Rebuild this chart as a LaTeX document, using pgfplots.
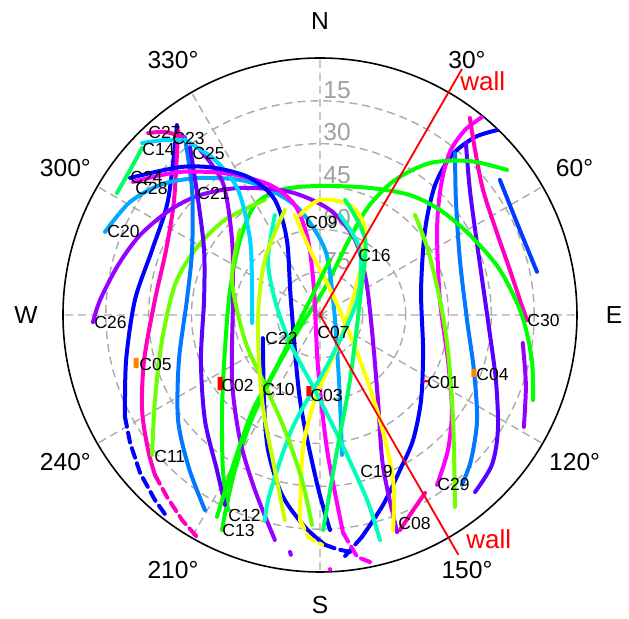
\documentclass[border=0pt]{standalone}
\usepackage{pgfplots}
\pgfplotsset{compat=1.18}
\usepgfplotslibrary{polar}
\usepackage{fontspec}
\setmainfont{Liberation Sans}
\definecolor{cBlue}{RGB}{0,0,255}
\definecolor{cBlueB}{RGB}{0,60,255}
\definecolor{cIndigo}{RGB}{90,0,255}
\definecolor{cPurple}{RGB}{150,0,255}
\definecolor{cMag}{RGB}{255,0,255}
\definecolor{cPink}{RGB}{255,0,190}
\definecolor{cAzure}{RGB}{0,120,255}
\definecolor{cSky}{RGB}{0,170,255}
\definecolor{cCyan}{RGB}{0,215,255}
\definecolor{cTeal}{RGB}{0,255,190}
\definecolor{cSpring}{RGB}{0,255,100}
\definecolor{cGreen}{RGB}{0,255,0}
\definecolor{cLime}{RGB}{110,255,0}
\definecolor{cYG}{RGB}{200,255,0}
\definecolor{cYellow}{RGB}{255,255,0}
\definecolor{cOrange}{RGB}{255,130,0}
\definecolor{gridgray}{RGB}{170,170,170}
\definecolor{labgray}{RGB}{160,160,160}
\pgfplotsset{
  trk/.style={data cs=cart, line width=2pt, line cap=round, smooth},
  dsh/.style={data cs=cart, line width=2pt, line cap=round, dash pattern=on 5pt off 3pt},
  geo/.style={data cs=cart, line width=2.5pt},
}
\begin{document}
\begin{tikzpicture}
% radial (elevation) labels, under everything
\begin{scope}[every node/.style={anchor=south west, inner sep=0pt, text=labgray, font=\fontsize{12.3}{14}\selectfont}]
\node at (1.5pt,108pt) {15};
\node at (1.5pt,86.7pt) {30};
\node at (1.5pt,65.2pt) {45};
\node at (1.5pt,43.8pt) {60};
\node at (1.5pt,22.4pt) {75};
\end{scope}
\begin{polaraxis}[
  at={(0pt,0pt)}, anchor=center, scale only axis,
  width=257pt, height=257pt,
  ymin=0, ymax=90,
  xtick={0,30,...,330}, xticklabel=\empty,
  ytick={15,30,45,60,75}, yticklabel=\empty,
  major tick length=0pt,
  grid=major,
  major grid style={draw=gridgray, dash pattern=on 4pt off 2.5pt, line width=0.7pt},
  axis line style={black, line width=0.8pt},
  y axis line style={draw=none},
]
% ---- east group
\addplot[trk, cBlue] coordinates {(62.3,64.8) (54.3,62.3) (46.2,56) (40.3,45.5) (36.8,29.8) (35.4,8.8) (36.1,-12.3) (35.4,-29.8) (32.6,-43.8) (28,-54.3) (22.1,-66.5) (14.7,-77.7)};
\addplot[dsh, cBlue] coordinates {(14.7,-77.7) (8.8,-84.4)};
\addplot[trk, cMag] coordinates {(56.7,69.3) (50.8,64.8) (45.5,57.1) (42.4,45.5) (41,29.8) (42,5.3) (44.8,-15.8) (46.2,-33.3) (44.8,-47.3) (41,-59.5)};
\addplot[trk, cPink] coordinates {(52.5,69) (54.3,57.8) (57.1,43.8) (62,28.7) (66.5,15.8) (70,5.3) (72.5,-1.8)};
\addplot[trk, cAzure] coordinates {(47.3,56.7) (47.6,40.3) (49,19.3) (51.5,-1.8) (53.9,-19.3) (55,-36.8) (52.9,-50.8) (49.7,-59.5)};
\addplot[trk, cIndigo] coordinates {(51.1,60.2) (52.5,43.8) (55.3,22.8) (58.8,-1.8) (61.6,-22.8) (62.3,-40.3) (60.2,-52.5) (54.3,-62)};
\addplot[trk, cBlueB] coordinates {(63,47.3) (69.3,31.5) (76,15.1)};
\addplot[trk, cPurple] coordinates {(71,-9.8) (72.1,-24.5) (71.4,-39.2)};
\addplot[trk, cGreen] coordinates {(65.5,50.8) (52.5,53.9) (38.5,53.2) (26.3,47.3) (17,38) (10,26) (2,10) (-8,-6) (-17,-22) (-24.5,-38) (-29.8,-54.3) (-33,-68.3) (-34.3,-75.3)};
\addplot[trk, cGreen] coordinates {(74.6,-29.8) (74.2,-15.8) (70.7,0) (63,15.8) (52.5,28) (42,36.8) (31.5,42) (17.5,44.5) (0,45.2) (-14,43.8) (-22.8,38.5) (-28,26.3) (-31.5,8.8) (-33.3,-12.3) (-34.3,-33.3) (-34,-54.3) (-32.2,-68.3)};
\addplot[trk, cLime] coordinates {(33.3,35) (37.8,22.8) (42,5.3) (44.8,-12.3) (46.6,-36.8) (47.3,-67.2)};
\addplot[trk, cPink] coordinates {(28,-75.3) (32.2,-69) (36.8,-62.3)};
% ---- west group
\addplot[trk, cBlue] coordinates {(-50.1,66.5) (-53.2,40.3) (-58.8,22.8) (-64.8,5.3) (-67.9,-15.8) (-68.3,-35.7)};
\addplot[dsh, cBlue] coordinates {(-68.3,-35.7) (-66.5,-44.8) (-63,-55.3) (-57.8,-64.8) (-53.6,-70.7)};
\addplot[trk, cPink] coordinates {(-49.7,64.8) (-51.1,40.3) (-53.9,22.8) (-57.8,5.3) (-61.6,-15.8) (-62.3,-33.3) (-60.2,-47.3) (-57.8,-56)};
\addplot[dsh, cPink] coordinates {(-57.8,-56) (-53.6,-63.7) (-48.3,-71.8) (-43.1,-77.7)};
\addplot[trk, cPink] coordinates {(-60.2,63.7) (-54.3,64.1) (-47.3,62.3)};
\addplot[trk, cSpring] coordinates {(-71.1,42.7) (-66.5,50.8) (-62.3,58.5)};
\addplot[trk, cCyan] coordinates {(-62.3,60.2) (-54.3,61.3) (-47.3,61.3)};
\addplot[trk, cSky] coordinates {(-75.3,29.1) (-66.5,39.6) (-55,45.9) (-42,48) (-28,47.3) (-17.5,43.8) (-7,36.8) (1.8,22.8) (4.6,5.3) (6,-12.3) (7,-29.8) (7.7,-49)};
\addplot[trk, cPurple] coordinates {(-79.5,-2.5) (-77,5.3) (-70.7,17.5) (-63,28) (-52.5,36.8) (-42,42) (-28,44.5) (-10.5,43.1) (3.5,36.8) (12.3,26.3) (16.1,12.3) (18.2,-5.3) (20.3,-29.8) (22.1,-53.2) (27,-76)};
\addplot[trk, cLime] coordinates {(-19.3,40.3) (-33.3,33.3) (-43.8,22.8) (-50.8,10.5) (-55.3,-8.8) (-57.8,-29.8) (-58.8,-49)};
\addplot[trk, cAzure] coordinates {(-47.3,62) (-44.8,43.8) (-44.8,22.8) (-46.6,5.3) (-49.4,-15.8) (-49.7,-36.8) (-45.9,-53.6) (-40.3,-68.3)};
\addplot[trk, cIndigo] coordinates {(-45.5,58.8) (-42.7,40.3) (-40.6,22.8) (-40.6,5.3) (-41.7,-15.8) (-40.3,-36.8) (-36.1,-54.3) (-33.3,-66.5)};
\addplot[trk, cPurple] coordinates {(-42,57.8) (-34,46.2) (-30.8,26.3) (-30.5,5.3) (-30.8,-22.8) (-28,-43.8) (-22.8,-61.3) (-15.8,-78.8)};
\addplot[trk, cPurple] coordinates {(-10.5,-83) (-10.2,-84)};
\addplot[trk, cCyan] coordinates {(-47.3,61.3) (-36.8,54.3) (-28.7,43.8) (-24.5,26.3) (-23.8,8.8) (-23.8,-2.8)};
\addplot[trk, cMag] coordinates {(-65.5,46.6) (-49,50.1) (-31.5,49.4) (-17.5,45.5) (-8.8,38.5) (-4.2,26.3) (-2.1,8.8) (-0.7,-18.2) (2.5,-47.3) (8.1,-76.3)};
\addplot[dsh, cMag] coordinates {(8.1,-76.3) (13,-84.7) (17.5,-86.5)};
\addplot[trk, cMag] coordinates {(3.5,-89) (3.6,-89.2)};
\addplot[trk, cBlue] coordinates {(-66.5,48) (-49,51.8) (-36.8,51.5) (-24.5,48) (-15.8,40.3) (-11.6,26.3) (-10.2,5.3) (-7,-29.8) (-1.1,-58.8) (3.5,-75.3)};
\addplot[trk, cBlue] coordinates {(-20,-8.1) (-19.6,-29.8) (-18.2,-47.3) (-13.3,-63) (-5.3,-74.2) (1.8,-80.5)};
\addplot[dsh, cBlue] coordinates {(1.8,-80.5) (6,-82) (10.5,-83)};
% ---- centre domes
\addplot[trk, cYellow] coordinates {(-7,-71.8) (-6,-47.3) (-1.8,-29.8) (7,-8.8) (13.3,12.3) (15.8,29.8) (10.5,38.5) (0,40.3) (-7,35)};
\addplot[trk, cYellow] coordinates {(25.6,-75.3) (25.6,-57.8) (21,-36.8) (14,-15.8) (5.3,5.3) (-3.5,22.8) (-8.8,35)};
\addplot[dsh, cYellow] coordinates {(-7,-71.8) (-4,-78) (0.7,-80.5)};
\addplot[trk, cTeal] coordinates {(-15.8,35) (-18.2,19.3) (-15.8,5.3) (-10.5,-9.8) (-1.8,-26.3) (7,-43.8) (16.5,-64.8) (21,-78.8)};
\addplot[trk, cTeal] coordinates {(7,35) (14,22.8) (13,5.3) (3.5,-15.8) (-9.5,-39.2) (-17.5,-62.3) (-19.3,-71.8)};
\addplot[trk, cSpring] coordinates {(8.8,40.3) (15.8,26.3) (14,5.3) (10.5,-22.8) (6,-47.3) (1.1,-75.3)};
\addplot[trk, cLime] coordinates {(-28,29.8) (-30.8,12.3) (-26.3,-8.8) (-19.3,-24.5) (-12.3,-40.3) (-6.3,-57.8) (-2.8,-73.5)};
\addplot[trk, cGreen] coordinates {(-36.1,-70.7) (-29.8,-50.8) (-23.5,-33.3) (-15.8,-19.3) (-7,-1.8) (0,12.3) (3.5,19.3)};
\addplot[trk, cYG] coordinates {(-12.3,36.8) (-19.3,19.3) (-21.7,-1.8) (-20.3,-29.8) (-15.8,-54.3) (-12.3,-71.8)};
% ---- GEO satellites (nearly fixed)
\addplot[geo, cOrange] coordinates {(-64.4,-15) (-64.4,-18.6)};
\addplot[geo, red] coordinates {(-35,-21.7) (-35,-26.3)};
\addplot[geo, red] coordinates {(-3.9,-24.9) (-3.9,-28.4)};
\addplot[geo, cOrange] coordinates {(53.9,-18.9) (53.9,-21.7)};
\addplot[geo, red] coordinates {(37.1,-22.8) (37.1,-23.6)};
\addplot[geo, gray] coordinates {(-0.6,0.4) (0.6,-0.4)};
\end{polaraxis}
% walls
\draw[red, line width=0.9pt] (0,0) -- (71pt,123pt);
\draw[red, line width=0.9pt] (0,0) -- (69.2pt,-119.9pt);
\node[anchor=west, inner sep=0pt, text=red, font=\fontsize{13}{15}\selectfont] at (70pt,117pt) {wall};
\node[anchor=west, inner sep=0pt, text=red, font=\fontsize{13}{15}\selectfont] at (73pt,-112pt) {wall};
% azimuth labels
\begin{scope}[every node/.style={inner sep=0pt, font=\fontsize{12.3}{14}\selectfont}]
\node at (0pt,147pt) {N};
\node at (73.5pt,127.3pt) {30°};
\node at (127.3pt,73.5pt) {60°};
\node at (147pt,0pt) {E};
\node at (127.3pt,-73.5pt) {120°};
\node at (73.5pt,-127.3pt) {150°};
\node at (0pt,-145pt) {S};
\node at (-73.5pt,-127.3pt) {210°};
\node at (-127.3pt,-73.5pt) {240°};
\node at (-147pt,0pt) {W};
\node at (-127.3pt,73.5pt) {300°};
\node at (-73.5pt,127.3pt) {330°};
\end{scope}
% satellite labels
\begin{scope}[every node/.style={anchor=west, inner sep=0pt, font=\fontsize{8.75}{10}\selectfont}]
\node at (-86pt,91.5pt) {C27};
\node at (-74pt,88.5pt) {C23};
\node at (-89pt,83pt) {C14};
\node at (-64pt,81pt) {C25};
\node at (-95pt,69pt) {C24};
\node at (-92.5pt,63.5pt) {C28};
\node at (-61.5pt,61pt) {C21};
\node at (-106.5pt,42pt) {C20};
\node at (-7.5pt,46.5pt) {C09};
\node at (19pt,30pt) {C16};
\node at (-113pt,-3.5pt) {C26};
\node at (-27.5pt,-11.5pt) {C22};
\node at (-1.5pt,-8.5pt) {C07};
\node at (-90.5pt,-24.5pt) {C05};
\node at (-49.5pt,-35pt) {C02};
\node at (-29pt,-37pt) {C10};
\node at (-5pt,-40pt) {C03};
\node at (53.5pt,-33.5pt) {C01};
\node at (78pt,-29.5pt) {C04};
\node at (103.5pt,-2.5pt) {C30};
\node at (-83pt,-70.5pt) {C11};
\node at (20pt,-78pt) {C19};
\node at (58.5pt,-84.5pt) {C29};
\node at (-46pt,-100pt) {C12};
\node at (-49pt,-107.5pt) {C13};
\node at (39pt,-104pt) {C08};
\end{scope}
\pgfresetboundingbox
\path[use as bounding box] (-160pt,-152pt) rectangle (154.5pt,157.5pt);
\end{tikzpicture}
\end{document}
